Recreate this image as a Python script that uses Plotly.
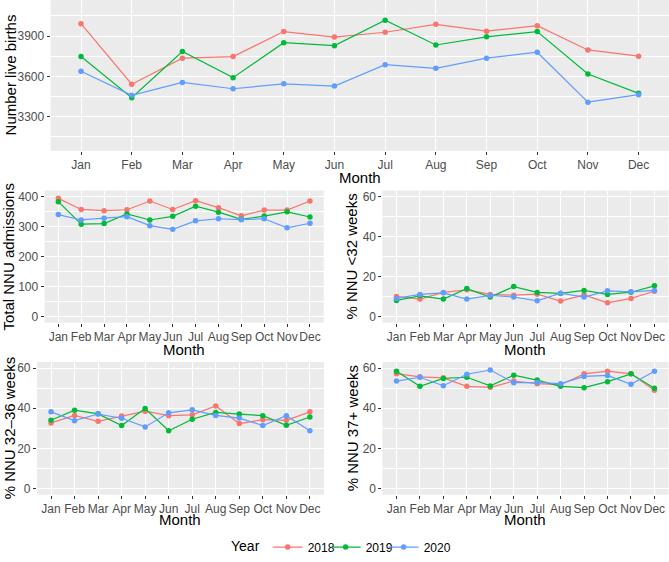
import plotly.graph_objects as go

# ---------------- data ----------------
months = ["Jan", "Feb", "Mar", "Apr", "May", "Jun", "Jul", "Aug", "Sep", "Oct", "Nov", "Dec"]
years = ["2018", "2019", "2020"]
colors = ["#F8766D", "#00BA38", "#619CFF"]

live_births_2018 = [3993, 3542, 3736, 3748, 3934, 3893, 3929, 3988, 3937, 3978, 3797, 3751]
live_births_2019 = [3748, 3442, 3785, 3591, 3851, 3829, 4018, 3834, 3895, 3934, 3618, 3474]
live_births_2020 = [3638, 3459, 3555, 3508, 3545, 3528, 3687, 3660, 3736, 3780, 3408, 3464]

admissions_2018 = [394, 357, 353, 356, 385, 357, 386, 363, 336, 355, 355, 385]
admissions_2019 = [383, 308, 310, 342, 322, 334, 368, 348, 324, 335, 349, 332]
admissions_2020 = [340, 322, 328, 333, 303, 291, 319, 326, 323, 326, 296, 311]

lt32_2018 = [10.1, 8.8, 12.1, 13.4, 11.1, 10.7, 11.2, 7.8, 10.9, 6.9, 9.1, 12.7]
lt32_2019 = [8.1, 10.4, 8.8, 14.0, 9.8, 15.0, 12.1, 11.6, 13.1, 11.1, 12.2, 15.4]
lt32_2020 = [9.1, 11.1, 11.9, 8.8, 10.6, 9.8, 7.9, 11.7, 9.8, 12.9, 12.4, 13.1]

w32_36_2018 = [32.7, 36.4, 33.5, 36.1, 38.5, 36.3, 36.7, 41.1, 32.4, 34.3, 34.0, 38.2]
w32_36_2019 = [34.0, 39.0, 37.2, 31.4, 39.8, 28.8, 34.5, 37.9, 37.1, 36.3, 31.5, 35.6]
w32_36_2020 = [38.2, 33.8, 37.1, 35.0, 30.7, 37.7, 39.2, 36.4, 35.1, 31.4, 36.3, 28.8]

w37p_2018 = [57.2, 55.6, 55.1, 50.9, 50.4, 53.5, 52.2, 51.7, 57.1, 58.4, 57.1, 48.9]
w37p_2019 = [58.4, 50.9, 54.8, 55.4, 51.1, 56.4, 54.0, 50.9, 50.2, 53.2, 57.1, 49.9]
w37p_2020 = [53.5, 55.4, 51.2, 56.9, 59.0, 52.7, 52.8, 52.2, 55.8, 56.3, 51.9, 58.4]

births_ticks = [3300, 3600, 3900]
births_minor = [3150, 3450, 3750, 4050]
adm_ticks = [0, 100, 200, 300, 400]
adm_minor = [50, 150, 250, 350]
pct_ticks = [0, 20, 40, 60]
pct_minor = [10, 30, 50]

panels = [
    ("Number live births", [live_births_2018, live_births_2019, live_births_2020], births_ticks, births_minor, [3046, 4169]),
    ("Total NNU admissions", [admissions_2018, admissions_2019, admissions_2020], adm_ticks, adm_minor, [-20, 420]),
    ("% NNU <32 weeks", [lt32_2018, lt32_2019, lt32_2020], pct_ticks, pct_minor, [-3, 63]),
    ("% NNU 32\u201336 weeks", [w32_36_2018, w32_36_2019, w32_36_2020], pct_ticks, pct_minor, [-3, 63]),
    ("% NNU 37+ weeks", [w37p_2018, w37p_2019, w37p_2020], pct_ticks, pct_minor, [-3, 63]),
]

# ---------------- layout (pixel geometry) ----------------
W, H = 669, 562
# (left, right, top, bottom) in pixels
boxes = [
    (50.6, 669.0, 0.0, 153.0),
    (44.6, 323.7, 193.3, 327.3),
    (382.4, 668.5, 193.3, 327.3),
    (36.9, 324.0, 367.2, 501.8),
    (382.4, 668.5, 367.2, 501.8),
]
ytitle_x = [10, 9, 352, 9, 352]
xtitle_gap = [27, 27, 27, 25.5, 25.5]

FONT = "Liberation Sans"
fig = go.Figure()
layout = {}
annotations = []

for i, ((title, series, ticks, minor, yr), (l, r, t, b)) in enumerate(zip(panels, boxes)):
    n = "" if i == 0 else str(i + 1)
    for k, (yr_name, col, vals) in enumerate(zip(years, colors, series)):
        fig.add_trace(go.Scatter(
            x=months, y=vals, mode="lines+markers", name=yr_name,
            line=dict(color=col, width=1.2), marker=dict(color=col, size=5.5),
            xaxis="x" + n, yaxis="y" + n, legendgroup=yr_name, showlegend=(i == 0),
        ))
    common = dict(showgrid=True, gridcolor="white", zeroline=False, showline=False,
                  ticks="outside", ticklen=3, tickwidth=1, tickcolor="#333333",
                  tickfont=dict(family=FONT, size=12, color="#4D4D4D"))
    layout["xaxis" + n] = dict(common, domain=[l / W, r / W], anchor="y" + n,
                               type="category", categoryorder="array", categoryarray=months,
                               range=[-0.6, 11.6], gridwidth=1.1, tickangle=0)
    layout["yaxis" + n] = dict(common, domain=[1 - b / H, 1 - t / H], anchor="x" + n,
                               range=yr, tickmode="array", tickvals=ticks, gridwidth=1.1,
                               minor=dict(tickmode="array", tickvals=minor, showgrid=True,
                                          gridcolor="white", gridwidth=0.5, ticks=""))
    annotations.append(dict(text="Month", xref="paper", yref="paper",
                            x=(l + r) / 2 / W, y=1 - (b + xtitle_gap[i]) / H, showarrow=False,
                            xanchor="center", yanchor="middle",
                            font=dict(family=FONT, size=15, color="black")))
    annotations.append(dict(text=title, xref="paper", yref="paper",
                            x=ytitle_x[i] / W, y=1 - (t + b) / 2 / H, showarrow=False,
                            textangle=-90, xanchor="center", yanchor="middle",
                            font=dict(family=FONT, size=15, color="black")))

# invisible spacer entry so the compact legend does not clip the last label
fig.add_trace(go.Scatter(x=[None], y=[None], mode="markers", name=" ",
                         marker=dict(color="rgba(0,0,0,0)", size=1,
                                     line=dict(width=0, color="rgba(0,0,0,0)")),
                         showlegend=True, hoverinfo="skip"))

fig.update_layout(
    width=W, height=H, margin=dict(l=0, r=0, t=0, b=0),
    paper_bgcolor="white", plot_bgcolor="#EBEBEB",
    annotations=annotations,
    legend=dict(orientation="h", x=229 / W, xanchor="left", y=1 - 555 / H, yanchor="middle",
                title=dict(text="Year", font=dict(family=FONT, size=14, color="black")),
                font=dict(family=FONT, size=12, color="black"), itemwidth=30,
                entrywidth=13, entrywidthmode="pixels"),
    **layout,
)

fig.write_html("out.html", config={"displayModeBar": False},
               post_script="document.body.style.margin='0px';document.body.style.padding='0px';")
